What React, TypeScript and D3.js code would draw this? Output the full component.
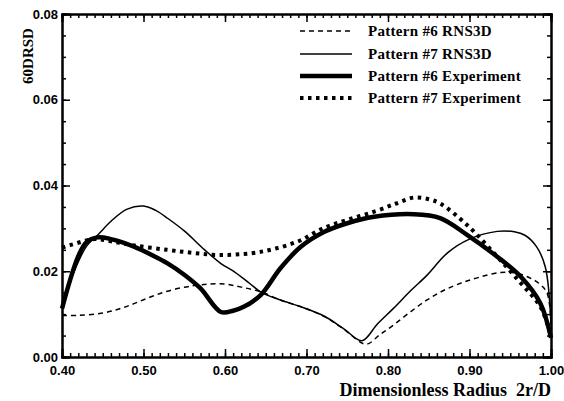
import * as React from 'react';
import { axisBottom, axisLeft, axisTop, axisRight, scaleLinear, select, line, curveCatmullRom, range } from 'd3';

// values: radius 2r/D -> 60DRSD
const p6RnsX = [0.40, 0.42, 0.448, 0.47, 0.489, 0.51, 0.534, 0.56, 0.58, 0.60, 0.62, 0.644, 0.668, 0.695, 0.722, 0.745, 0.773, 0.79, 0.807, 0.828, 0.848, 0.868, 0.889, 0.912, 0.938, 0.956, 0.97, 0.985, 0.995, 1.00];
const p6RnsY = [0.0097, 0.0097, 0.0102, 0.0112, 0.0125, 0.0141, 0.0156, 0.0166, 0.0170, 0.0170, 0.0163, 0.0152, 0.0133, 0.0116, 0.0094, 0.0066, 0.0030, 0.0052, 0.0075, 0.0106, 0.0133, 0.0155, 0.0172, 0.0186, 0.0197, 0.0196, 0.0188, 0.0172, 0.0150, 0.0085];

const p7RnsX = [0.40, 0.415, 0.43, 0.445, 0.462, 0.48, 0.50, 0.515, 0.53, 0.55, 0.575, 0.595, 0.612, 0.63, 0.645, 0.668, 0.695, 0.722, 0.745, 0.768, 0.787, 0.807, 0.828, 0.848, 0.873, 0.90, 0.934, 0.955, 0.968, 0.982, 0.993, 1.00];
const p7RnsY = [0.0120, 0.0200, 0.0258, 0.0287, 0.0320, 0.0345, 0.0352, 0.0342, 0.0323, 0.0294, 0.0250, 0.0218, 0.0198, 0.0172, 0.0150, 0.0133, 0.0116, 0.0095, 0.0067, 0.0038, 0.0077, 0.0114, 0.0155, 0.0191, 0.0243, 0.0275, 0.0293, 0.0292, 0.0284, 0.0258, 0.0210, 0.0075];

const p6ExpX = [0.40, 0.41, 0.42, 0.43, 0.444, 0.46, 0.489, 0.51, 0.529, 0.55, 0.57, 0.595, 0.61, 0.623, 0.644, 0.668, 0.693, 0.722, 0.75, 0.783, 0.832, 0.864, 0.897, 0.934, 0.963, 0.987, 1.00];
const p6ExpY = [0.0113, 0.0180, 0.0235, 0.0268, 0.0279, 0.0275, 0.0257, 0.0238, 0.0219, 0.0192, 0.0160, 0.0105, 0.0108, 0.0117, 0.0145, 0.0207, 0.0257, 0.0292, 0.0312, 0.0327, 0.0333, 0.0324, 0.0285, 0.0234, 0.0187, 0.0125, 0.0045];

const p7ExpX = [0.40, 0.412, 0.44, 0.46, 0.489, 0.529, 0.56, 0.591, 0.632, 0.66, 0.69, 0.72, 0.75, 0.783, 0.81, 0.832, 0.85, 0.864, 0.897, 0.934, 0.963, 0.987, 1.00];
const p7ExpY = [0.0255, 0.0262, 0.0275, 0.0270, 0.0260, 0.0250, 0.0243, 0.0238, 0.0242, 0.0252, 0.0270, 0.0300, 0.0320, 0.0339, 0.0358, 0.0372, 0.0368, 0.0358, 0.0308, 0.0234, 0.0172, 0.0117, 0.0050];

const xTicks = [0.4, 0.5, 0.6, 0.7, 0.8, 0.9, 1.0];
const yTicks = [0.0, 0.02, 0.04, 0.06, 0.08];

const legendLabels = ["Pattern #6 RNS3D", "Pattern #7 RNS3D", "Pattern #6 Experiment", "Pattern #7 Experiment"];

const serif = "'Liberation Serif', 'DejaVu Serif', serif";
const sans = "'Liberation Sans', Arial, sans-serif";

const App = () => {

    const svgRef = React.useRef<SVGSVGElement>(null);

    React.useEffect(() => {
        if (!svgRef.current) {
            return;
        }
        const width = 564;
        const height = 401;
        const margin = { top: 14, bottom: 44, left: 62, right: 13 };

        const svg = select(svgRef.current);
        svg.selectAll("*").remove();
        svg.attr("width", width).attr("height", height).style("background", "white");

        const xScale = scaleLinear().domain([0.4, 1.0]).range([margin.left, width - margin.right]);
        const yScale = scaleLinear().domain([0, 0.08]).range([height - margin.bottom, margin.top]);

        const minorX = range(40, 101).map(d => d / 100);
        const minorY = range(0, 17).map(d => d * 0.005);

        const styleAxis = (g: any) => {
            g.selectAll(".domain").attr("stroke", "black").attr("stroke-width", 2);
            g.selectAll("line").attr("stroke", "black").attr("stroke-width", 1.5);
            g.selectAll("text").attr("fill", "black").style("font-family", sans).style("font-weight", "bold").style("font-size", "13px");
        };

        const yBottom = yScale(0);
        const yTop = yScale(0.08);
        const xLeft = xScale(0.4);
        const xRight = xScale(1.0);

        // bottom
        svg.append("g").attr("transform", `translate(0, ${yBottom})`)
            .call(axisBottom(xScale).tickValues(minorX).tickFormat(() => "").tickSize(-4) as any)
            .call(styleAxis);
        svg.append("g").attr("transform", `translate(0, ${yBottom})`)
            .call(axisBottom(xScale).tickValues(xTicks).tickFormat((d: any) => (+d).toFixed(2)).tickSize(-8).tickPadding(9) as any)
            .call(styleAxis);
        // top
        svg.append("g").attr("transform", `translate(0, ${yTop})`)
            .call(axisTop(xScale).tickValues(minorX).tickFormat(() => "").tickSize(-4) as any)
            .call(styleAxis);
        svg.append("g").attr("transform", `translate(0, ${yTop})`)
            .call(axisTop(xScale).tickValues(xTicks).tickFormat(() => "").tickSize(-8) as any)
            .call(styleAxis);
        // left
        svg.append("g").attr("transform", `translate(${xLeft}, 0)`)
            .call(axisLeft(yScale).tickValues(minorY).tickFormat(() => "").tickSize(-4) as any)
            .call(styleAxis);
        svg.append("g").attr("transform", `translate(${xLeft}, 0)`)
            .call(axisLeft(yScale).tickValues(yTicks).tickFormat((d: any) => (+d).toFixed(2)).tickSize(-8).tickPadding(4) as any)
            .call(styleAxis);
        // right
        svg.append("g").attr("transform", `translate(${xRight}, 0)`)
            .call(axisRight(yScale).tickValues(minorY).tickFormat(() => "").tickSize(-4) as any)
            .call(styleAxis);
        svg.append("g").attr("transform", `translate(${xRight}, 0)`)
            .call(axisRight(yScale).tickValues(yTicks).tickFormat(() => "").tickSize(-8) as any)
            .call(styleAxis);

        const series = [
            { xs: p6RnsX, ys: p6RnsY, width: 1.5, dash: "5,4" },
            { xs: p7RnsX, ys: p7RnsY, width: 1.5, dash: null },
            { xs: p6ExpX, ys: p6ExpY, width: 4.5, dash: null },
            { xs: p7ExpX, ys: p7ExpY, width: 4, dash: "3.5,4.5" },
        ];

        const lineGen = line<[number, number]>()
            .x(d => xScale(d[0]))
            .y(d => yScale(d[1]))
            .curve(curveCatmullRom.alpha(0.5));

        const plot = svg.append("g");
        series.forEach(s => {
            const pts = s.xs.map((x, i) => [x, s.ys[i]] as [number, number]);
            plot.append("path")
                .datum(pts)
                .attr("d", lineGen)
                .attr("fill", "none")
                .attr("stroke", "black")
                .attr("stroke-width", s.width)
                .attr("stroke-linejoin", "round")
                .attr("stroke-dasharray", s.dash);
        });

        // legend
        const legend = svg.append("g");
        const rowY = [31, 54, 76, 98];
        series.forEach((s, i) => {
            legend.append("line")
                .attr("x1", 300).attr("x2", 352)
                .attr("y1", rowY[i]).attr("y2", rowY[i])
                .attr("stroke", "black")
                .attr("stroke-width", s.width)
                .attr("stroke-dasharray", s.dash);
            legend.append("text")
                .attr("x", 368).attr("y", rowY[i] + 5)
                .style("font-family", serif).style("font-weight", "bold").style("font-size", "15px")
                .style("letter-spacing", "0.3px")
                .attr("fill", "black")
                .text(legendLabels[i]);
        });

        svg.append("text")
            .attr("x", 551).attr("y", 396)
            .attr("text-anchor", "end")
            .style("font-family", serif).style("font-weight", "bold").style("font-size", "18px")
            .style("white-space", "pre")
            .text("Dimensionless Radius  2r/D");

        svg.append("text")
            .attr("transform", "translate(33, 56) rotate(-90)")
            .attr("text-anchor", "middle")
            .style("font-family", serif).style("font-weight", "bold").style("font-size", "15px")
            .text("60DRSD");

    }, [svgRef]);

    return (
        <div style={{ position: 'fixed', left: 0, top: 0 }}>
            <svg ref={svgRef}></svg>
        </div>
    );
}

export default App;
